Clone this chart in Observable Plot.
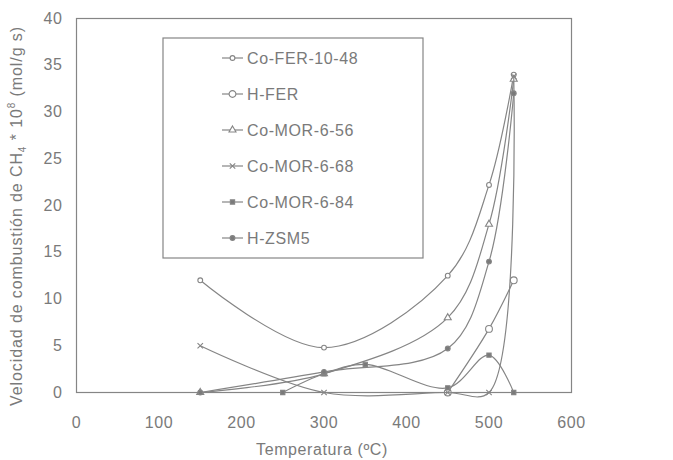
<!DOCTYPE html>
<html><head><meta charset="utf-8">
<script src="https://cdn.jsdelivr.net/npm/d3@7"></script>
<script src="https://cdn.jsdelivr.net/npm/@observablehq/plot@0.6"></script>
<style>body{margin:0;background:#fff} svg{display:block}</style>
</head><body><div id="chart"></div>
<script>
const seriesNames = ["Co-FER-10-48","H-FER","Co-MOR-6-56","Co-MOR-6-68","Co-MOR-6-84","H-ZSM5"];
const coFer1048T = [150,300,450,500,530];
const coFer1048V = [12,4.8,12.5,22.2,34];
const hFerT = [450,500,530];
const hFerV = [0,6.8,12];
const coMor656T = [150,300,450,500,530];
const coMor656V = [0,2,8,18,33.5];
const coMor668T = [150,300,450,500,530];
const coMor668V = [5,0,0,0,33.8];
const coMor684T = [250,300,350,450,500,530];
const coMor684V = [0,2,3,0.5,4,0];
const hZsm5T = [150,300,450,500,530];
const hZsm5V = [0,2.2,4.7,14,32];
const xTicks = [0,100,200,300,400,500,600];
const yTicks = [0,5,10,15,20,25,30,35,40];
const xLabel = "Temperatura (ºC)";

const seriesT = [coFer1048T,hFerT,coMor656T,coMor668T,coMor684T,hZsm5T];
const seriesV = [coFer1048V,hFerV,coMor656V,coMor668V,coMor684V,hZsm5V];
const symbols = ["circle","circle","triangle","times","square","circle"];
const fills = ["white","white","white","none","#7a7a7a","#7a7a7a"];
const radii = [2.4,3.4,2.6,2.6,2.4,2.4];
const grey = "#858585";
const textGrey = "#7a7a7a";

const marks = [Plot.frame({stroke: grey, strokeWidth: 1.2})];
seriesNames.forEach((name, i) => {
  const rows = seriesT[i].map((t, j) => ({series: name, t, v: seriesV[i][j]}));
  marks.push(Plot.line(rows, {x: "t", y: "v", curve: "catmull-rom", stroke: grey, strokeWidth: 1.2}));
  marks.push(Plot.dot(rows, {x: "t", y: "v", symbol: symbols[i], r: radii[i], stroke: grey, fill: fills[i], strokeWidth: 1.1}));
});

const svg = Plot.plot({
  width: 673, height: 460,
  marginLeft: 76, marginRight: 102, marginTop: 18, marginBottom: 68,
  style: {fontFamily: "'Liberation Sans', Arial, sans-serif", fontSize: "16px", color: textGrey, background: "#fff", letterSpacing: "0.6px"},
  x: {domain: [0, 600], ticks: xTicks, tickSize: 0, tickPadding: 24, label: null},
  y: {domain: [0, 40], ticks: yTicks, tickSize: 0, tickPadding: 14, label: null},
  marks
});
document.getElementById("chart").appendChild(svg);

const s = d3.select(svg);
// axis titles
s.append("text").attr("x", 322).attr("y", 455).attr("text-anchor", "middle")
  .attr("fill", textGrey).attr("font-size", 16).attr("letter-spacing", "0.6px").text(xLabel);
const yl = s.append("text").attr("transform", "translate(22,216) rotate(-90)")
  .attr("text-anchor", "middle").attr("fill", textGrey).attr("font-size", 16).attr("letter-spacing", "0.9px");
yl.append("tspan").text("Velocidad de combustión de CH");
yl.append("tspan").attr("font-size", 10).attr("dy", 4).text("4");
yl.append("tspan").attr("dy", -4).text(" * 10");
yl.append("tspan").attr("font-size", 10).attr("dy", -7).text("8");
yl.append("tspan").attr("dy", 7).text(" (mol/g s)");

// legend
const lg = s.append("g");
lg.append("rect").attr("x", 163).attr("y", 38).attr("width", 260).attr("height", 220)
  .attr("fill", "white").attr("stroke", grey).attr("stroke-width", 1.2);
const symMap = {circle: d3.symbolCircle, triangle: d3.symbolTriangle, times: d3.symbolTimes, square: d3.symbolSquare};
seriesNames.forEach((name, i) => {
  const y = 58 + i * 36;
  lg.append("line").attr("x1", 222).attr("x2", 243).attr("y1", y).attr("y2", y)
    .attr("stroke", grey).attr("stroke-width", 1.2);
  lg.append("path").attr("transform", `translate(232.5,${y})`)
    .attr("d", d3.symbol(symMap[symbols[i]], Math.PI * radii[i] * radii[i])())
    .attr("fill", fills[i]).attr("stroke", grey).attr("stroke-width", 1.1);
  lg.append("text").attr("x", 247).attr("y", y).attr("dy", "0.35em").attr("text-anchor", "start")
    .attr("fill", textGrey).attr("font-size", 16).attr("letter-spacing", "0.6px").text(name);
});
</script></body></html>
